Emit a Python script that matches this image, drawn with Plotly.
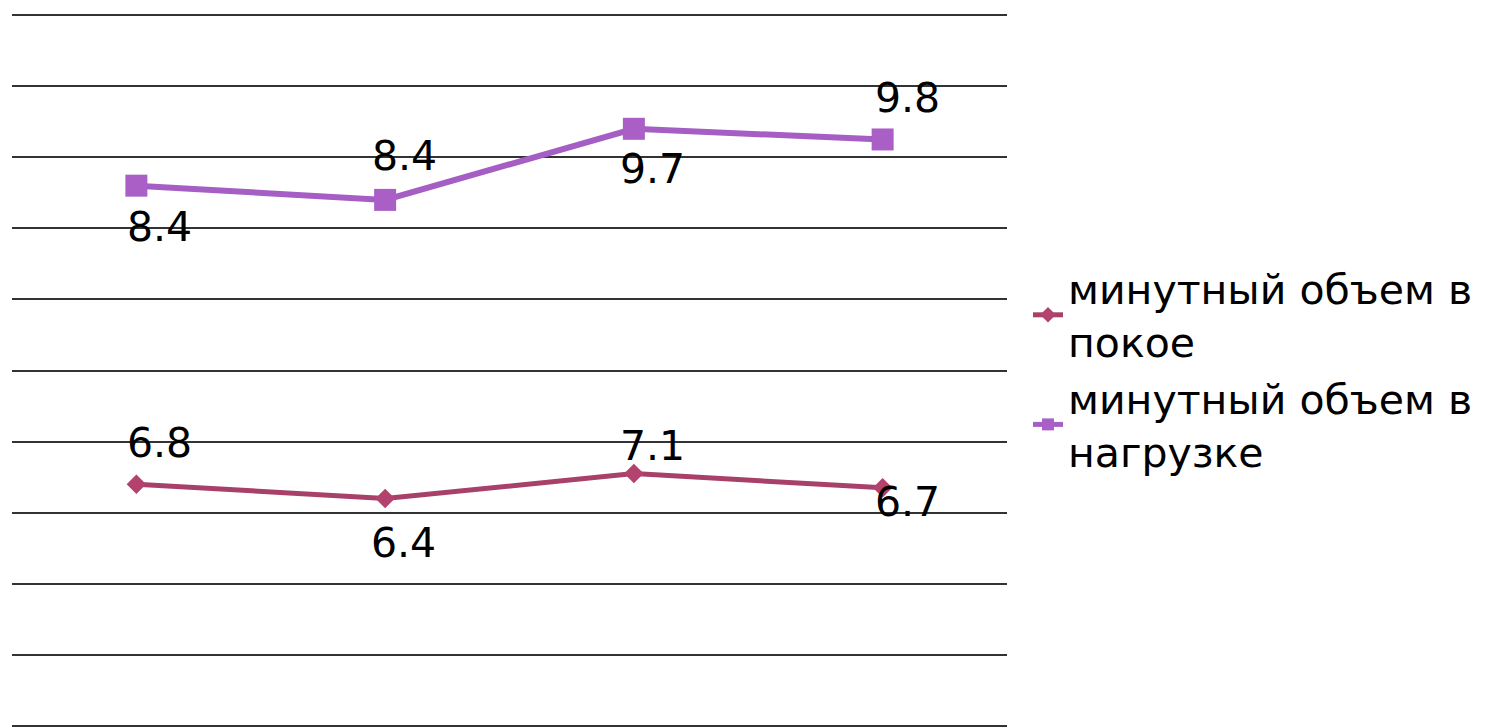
import numpy as np
import plotly.graph_objects as go

categories = ["1", "2", "3", "4"]
rest_values = [6.8, 6.4, 7.1, 6.7]
load_values = [8.4, 8.4, 9.7, 9.8]
series_names = ["минутный объем в<br>покое", "минутный объем в<br>нагрузке"]

# stacked line chart: second series sits on top of the first
rest_stack = np.array(rest_values)
load_stack = rest_stack + np.array(load_values)
xi = list(range(len(categories)))

c1 = "#A8416A"
c2 = "#A55EC3"

fig = go.Figure()
fig.add_trace(go.Scatter(
    x=xi, y=rest_stack, name=series_names[0], mode="lines+markers",
    line=dict(color=c1, width=5),
    marker=dict(symbol="diamond", size=15, color="#B3426E"),
))
fig.add_trace(go.Scatter(
    x=xi, y=load_stack, name=series_names[1], mode="lines+markers",
    line=dict(color=c2, width=6),
    marker=dict(symbol="square", size=22, color="#AA5FC6"),
))

label_font = dict(family="DejaVu Sans", size=41, color="#000000")
# label offsets (px) : (xshift, yshift)
rest_offsets = [(23, 41), (18, -45), (19, 28), (25, -14)]
load_offsets = [(23, -41), (19, 44), (19, -40), (25, 41)]
for i, v, txt, (dx, dy) in zip(xi, rest_stack, rest_values, rest_offsets):
    fig.add_annotation(x=i, y=v, text=f"{txt}", showarrow=False,
                       xshift=dx, yshift=dy, font=label_font)
for i, v, txt, (dx, dy) in zip(xi, load_stack, load_values, load_offsets):
    fig.add_annotation(x=i, y=v, text=f"{txt}", showarrow=False,
                       xshift=dx, yshift=dy, font=label_font)

fig.update_layout(
    width=1487, height=727,
    margin=dict(l=12, r=480, t=14, b=0, autoexpand=False),
    paper_bgcolor="white", plot_bgcolor="white",
    showlegend=True,
    legend=dict(
        xref="container", yref="container",
        x=1028 / 1487, y=1 - 255 / 727, xanchor="left", yanchor="top",
        font=dict(family="DejaVu Sans", size=41, color="#000000"),
        bgcolor="rgba(0,0,0,0)", tracegroupgap=0, itemsizing="constant",
    ),
    xaxis=dict(range=[-0.5, 3.5], showgrid=False,
               tickvals=xi, ticktext=categories,
               showticklabels=False, showline=False, ticks="", zeroline=False),
    yaxis=dict(range=[-0.03, 20.03], tickvals=list(range(0, 21, 2)),
               showgrid=True, gridcolor="#333333",
               gridwidth=2, showticklabels=False, ticks="", zeroline=False,
               showline=False),
)

fig.write_html("out.html")
